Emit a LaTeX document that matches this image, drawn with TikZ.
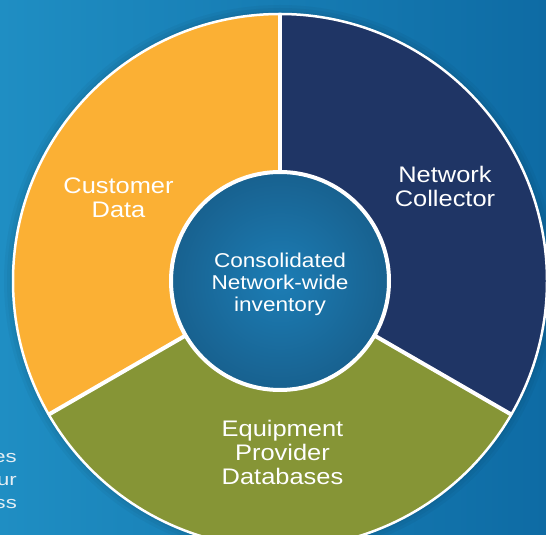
\documentclass[tikz,border=0pt]{standalone}
\usepackage{fontspec}
\setmainfont{Liberation Sans}
\newfontfamily\lblfont[FakeStretch=1.13]{Liberation Sans}
\newfontfamily\sidefont[FakeStretch=1.3]{Liberation Sans}
\definecolor{bgL}{HTML}{1F8EC3}
\definecolor{bgR}{HTML}{0E6BA4}
\definecolor{orangeC}{HTML}{FBB034}
\definecolor{navyC}{HTML}{1F3565}
\definecolor{greenC}{HTML}{869536}
\definecolor{hubIn}{HTML}{1C7DB5}
\definecolor{hubOut}{HTML}{18618F}
\definecolor{sideC}{HTML}{E4EEF4}
\tikzset{
  seglabel/.style={text=white, align=center, anchor=base,
    font=\lblfont\fontsize{22.5}{24}\selectfont, inner sep=0pt},
  hublabel/.style={text=white, align=center, anchor=base,
    font=\lblfont\fontsize{20}{22}\selectfont, inner sep=0pt},
  sidelabel/.style={text=sideC, anchor=base east,
    font=\sidefont\fontsize{17}{17}\selectfont, inner sep=0pt},
  divider/.style={white, line width=4pt},
}
\begin{document}
\begin{tikzpicture}[x=1pt,y=1pt]
\useasboundingbox (0,0) rectangle (546,535);
\clip (0,0) rectangle (546,535);
\shade[left color=bgL, right color=bgR] (0,0) rectangle (546,535);
\coordinate (c) at (280,254);
% soft shadow
\foreach \r in {276,273,270} \fill[black, opacity=0.035] (c) circle[radius=\r];
% segments
\fill[orangeC] (c) -- ++(90:267) arc[start angle=90, end angle=210, radius=267] -- cycle;
\fill[greenC] (c) -- ++(210:267) arc[start angle=210, end angle=330, radius=267] -- cycle;
\fill[navyC] (c) -- ++(-30:267) arc[start angle=-30, end angle=90, radius=267] -- cycle;
\draw[white, line width=2.5pt] (c) circle[radius=267];
\foreach \a in {90,210,330} \draw[divider] (c) -- ++(\a:268);
% hub
\shade[inner color=hubIn, outer color=hubOut] (c) circle[radius=109];
\draw[white, line width=4pt] (c) circle[radius=109];
% labels (base anchor = baseline of last line)
\node[seglabel] (cust) at (118.5,317) {Customer\\Data};
\node[seglabel] (netc) at (445,328) {Network\\Collector};
\node[seglabel] (equip) at (282.5,50) {Equipment\\Provider\\Databases};
\node[hublabel] (hub) at (280,223) {Consolidated\\Network-wide\\inventory};
% partial side text
\node[sidelabel] (s1) at (17,72) {es};
\node[sidelabel] (s2) at (17,49) {ur};
\node[sidelabel] (s3) at (17,26) {ss};
\end{tikzpicture}
\end{document}
